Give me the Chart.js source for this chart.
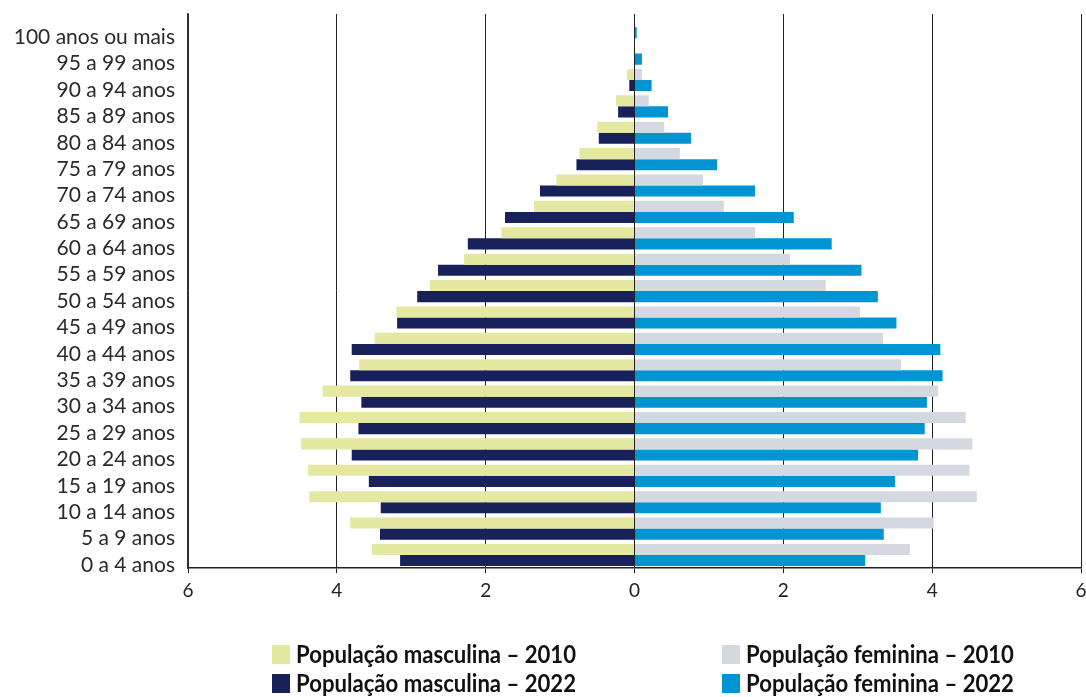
<!DOCTYPE html>
<html>
<head>
<meta charset="utf-8">
<script src="https://cdn.jsdelivr.net/npm/chart.js"></script>
<style>
  body { margin: 0; background: #fff; }
  #wrap { width: 1086px; height: 697px; }
</style>
</head>
<body>
<div id="wrap"><canvas id="piramide"></canvas></div>

<script>
    // faixas etarias, de cima para baixo
    const faixas = ['100 anos ou mais', '95 a 99 anos', '90 a 94 anos', '85 a 89 anos', '80 a 84 anos',
        '75 a 79 anos', '70 a 74 anos', '65 a 69 anos', '60 a 64 anos', '55 a 59 anos', '50 a 54 anos',
        '45 a 49 anos', '40 a 44 anos', '35 a 39 anos', '30 a 34 anos', '25 a 29 anos', '20 a 24 anos',
        '15 a 19 anos', '10 a 14 anos', '5 a 9 anos', '0 a 4 anos'];

    // % da populacao
    const masc2010 = [0, 0, 0.10, 0.25, 0.50, 0.74, 1.05, 1.35, 1.79, 2.29, 2.75,
        3.20, 3.49, 3.70, 4.19, 4.50, 4.48, 4.39, 4.37, 3.82, 3.53];
    const masc2022 = [0, 0, 0.07, 0.22, 0.48, 0.78, 1.27, 1.74, 2.24, 2.64, 2.92,
        3.19, 3.80, 3.82, 3.67, 3.71, 3.80, 3.57, 3.41, 3.42, 3.15];
    const fem2010 = [0, 0, 0.10, 0.19, 0.40, 0.61, 0.92, 1.20, 1.62, 2.09, 2.57,
        3.03, 3.34, 3.58, 4.08, 4.45, 4.54, 4.50, 4.60, 4.02, 3.70];
    const fem2022 = [0.03, 0.10, 0.23, 0.45, 0.76, 1.11, 1.62, 2.14, 2.65, 3.05, 3.27,
        3.52, 4.11, 4.14, 3.93, 3.90, 3.81, 3.50, 3.31, 3.35, 3.10];

    const ticksX = [-6, -4, -2, 0, 2, 4, 6];

    const fonte = 'Lato, "Noto Sans", sans-serif';

    // legenda em duas colunas, desenhada a mao
    const legenda = {
        id: 'legenda',
        afterDraw(chart) {
            const ctx = chart.ctx;
            const ds = chart.data.datasets;
            const pos = [[272, 645], [272, 674], [722, 645], [722, 674]];
            ctx.save();
            ctx.font = 'bold 25px ' + fonte;
            ctx.textBaseline = 'middle';
            ctx.textAlign = 'left';
            const k = 280 / ctx.measureText(ds[0].label).width;
            ds.forEach(function (d, i) {
                const p = pos[i];
                ctx.fillStyle = d.backgroundColor;
                ctx.fillRect(p[0], p[1], 18, 19);
                ctx.fillStyle = '#111';
                const w = ctx.measureText(d.label).width * k;
                ctx.fillText(d.label, p[0] + 24, p[1] + 10, w);
            });
            ctx.restore();
        }
    };

    const data = {
        labels: faixas,
        datasets: [
            {
                label: 'População masculina – 2010',
                backgroundColor: '#e5e8a0',
                stack: 'a2010',
                data: masc2010.map(v => -v)
            },
            {
                label: 'População masculina – 2022',
                backgroundColor: '#18215a',
                stack: 'a2022',
                data: masc2022.map(v => -v)
            },
            {
                label: 'População feminina – 2010',
                backgroundColor: '#d4d8e0',
                stack: 'a2010',
                data: fem2010
            },
            {
                label: 'População feminina – 2022',
                backgroundColor: '#0094d3',
                stack: 'a2022',
                data: fem2022
            }
        ]
    };

    const config = {
        type: 'bar',
        data: data,
        plugins: [legenda],
        options: {
            indexAxis: 'y',
            responsive: true,
            maintainAspectRatio: false,
            animation: false,
            devicePixelRatio: 1,
            categoryPercentage: 0.84,
            barPercentage: 1,
            layout: { padding: { top: 14, right: 5, bottom: 89, left: 0 } },
            plugins: {
                legend: { display: false },
                tooltip: { enabled: false }
            },
            scales: {
                x: {
                    stacked: true,
                    min: -6,
                    max: 6,
                    z: 1,
                    afterBuildTicks: function (scale) {
                        scale.ticks = ticksX.map(v => ({ value: v }));
                    },
                    afterFit: function (scale) {
                        scale.paddingLeft = 0;
                        scale.paddingRight = 0;
                    },
                    ticks: {
                        color: '#222',
                        font: { family: fonte, size: 19 },
                        padding: 6,
                        callback: v => Math.abs(v)
                    },
                    grid: { color: '#222', lineWidth: 1, tickLength: 5, drawTicks: true },
                    border: { display: true, color: '#222', width: 1.5 }
                },
                y: {
                    stacked: true,
                    afterFit: function (scale) {
                        scale.width = 188;
                        scale.paddingTop = 0;
                        scale.paddingBottom = 0;
                    },
                    ticks: {
                        color: '#2a2a2a',
                        font: { family: fonte, size: 21 },
                        padding: 13,
                        labelOffset: 10,
                        autoSkip: false
                    },
                    grid: { display: false, drawTicks: false },
                    border: { display: true, color: '#333', width: 1.5 }
                }
            }
        }
    };

    const piramide = new Chart(document.getElementById('piramide'), config);
</script>
</body>
</html>
